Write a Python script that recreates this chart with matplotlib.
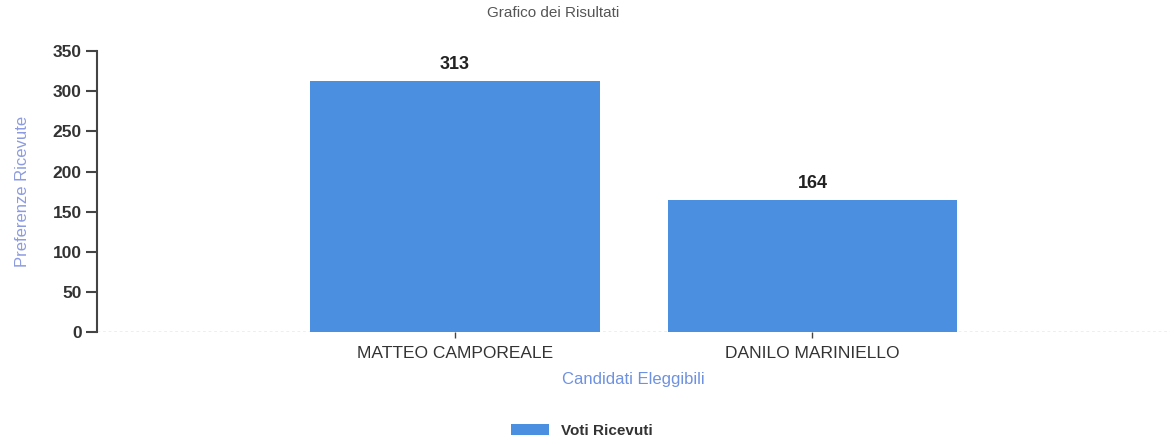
import matplotlib
matplotlib.use("Agg")
import matplotlib.pyplot as plt
from matplotlib.patches import Patch

categories = ["MATTEO CAMPOREALE", "DANILO MARINIELLO"]
votes = [313, 164]
yticks = [0, 50, 100, 150, 200, 250, 300, 350]
series_name = "Voti Ricevuti"

plt.rcParams['font.family'] = ['Liberation Sans', 'DejaVu Sans']

fig = plt.figure(figsize=(11.76, 4.44), dpi=100)
ax = fig.add_axes([0.0825, 0.252, 0.9125, 0.633])

bar_color = "#4a8fe0"
x = list(range(len(categories)))
bars = ax.bar(x, votes, width=0.81, color=bar_color)
for xi, v in zip(x, votes):
    ax.text(xi, v + 10, str(v), ha="center", va="bottom", fontsize=13,
            fontweight="bold", color="#222222")

ax.set_xlim(-1, 2)
ax.set_ylim(0, 350)
ax.set_xticks(x)
ax.set_xticklabels(categories, fontsize=12.5, color="#333333")
ax.set_yticks(yticks)
ax.set_yticklabels([str(t) for t in yticks], fontsize=12.5, fontweight="bold", color="#333333")

for s in ["top", "right", "bottom"]:
    ax.spines[s].set_visible(False)
ax.spines["left"].set_color("#444444")
ax.spines["left"].set_linewidth(1.5)
ax.axhline(0, color="#aaaaaa", linestyle=(0, (2, 2)), linewidth=1, zorder=0)
ax.tick_params(axis="y", length=8, width=1.5, color="#444444", pad=3)
ax.tick_params(axis="x", length=4, width=1, color="#444444", pad=6)

ax.set_ylabel("Preferenze Ricevute", fontsize=12, color="#8c9be0", labelpad=16)
ax.set_xlabel("Candidati Eleggibili", fontsize=12, color="#6f92e0", labelpad=8)
fig.text(0.47, 0.97, "Grafico dei Risultati", fontsize=11, color="#555555",
         ha="center", va="center")

handles = [Patch(facecolor=bar_color, label=series_name)]
leg = fig.legend(handles=handles, loc="center", bbox_to_anchor=(0.495, 0.03),
                 frameon=False, fontsize=11, handlelength=2.5, handleheight=0.7)
for t in leg.get_texts():
    t.set_fontweight("bold")
    t.set_color("#333333")

fig.savefig("out.png", dpi=100)
